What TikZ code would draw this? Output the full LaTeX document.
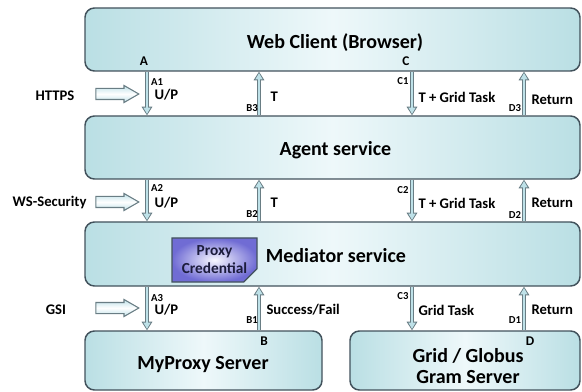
\documentclass[tikz,border=0pt]{standalone}
\usepackage{fontspec}
\setmainfont{Carlito}
\usetikzlibrary{arrows.meta,shapes.arrows,shapes.misc}

\definecolor{layerfill}{RGB}{186,223,228}
\definecolor{layerlight}{RGB}{238,248,250}
\definecolor{layeredge}{RGB}{66,82,92}
\definecolor{flowedge}{RGB}{105,125,132}
\definecolor{flowfill}{RGB}{190,225,232}
\definecolor{credfill}{RGB}{112,108,212}
\definecolor{credlight}{RGB}{248,248,255}
\definecolor{credtext}{RGB}{28,28,60}

\tikzset{every picture/.style={line width=0.75pt}}
\tikzset{
  layer/.style={draw=layeredge, line width=1.1pt, rounded corners=7pt,
    left color=layerfill, right color=layerfill, middle color=layerlight, inner sep=0pt},
  wide layer/.style={layer, minimum width=371.25pt, minimum height=47.25pt},
  server/.style={layer, minimum width=#1, minimum height=44.25pt},
  layer text/.style={inner sep=0pt, align=center, font=\fontsize{15}{16}\selectfont\bfseries},
  flow/.style={draw=flowfill, line width=1.5pt, shorten >=1.1pt, shorten <=0.2pt,
    -{Triangle[length=4.6pt,width=5.4pt,line width=0pt]},
    preaction={draw=flowedge, line width=3.4pt, shorten >=0pt, shorten <=0pt,
      -{Triangle[length=6.4pt,width=8.2pt,line width=0pt]}}},
  channel/.style={single arrow, draw=flowedge, line width=0.8pt,
    top color=flowfill, bottom color=flowfill, middle color=white, inner sep=0pt,
    text height=7.5pt, text depth=0pt, minimum height=32.25pt,
    single arrow head extend=2.25pt, single arrow tip angle=60},
  endpoint/.style={inner sep=0pt, font=\fontsize{10}{12}\selectfont\bfseries},
  tag/.style={inner sep=0pt, font=\fontsize{8}{9}\selectfont\bfseries},
  msg/.style={inner sep=0pt, anchor=west, font=\fontsize{11}{13}\selectfont\bfseries},
  proto/.style={inner sep=0pt, font=\fontsize{11}{13}\selectfont\bfseries},
}

\begin{document}
\begin{tikzpicture}[x=0.75pt,y=0.75pt,yscale=-1,xscale=1]
\useasboundingbox (0,0) rectangle (582,392);

%Layers
\node[wide layer] (web) at (332.5,39.5) {};
\node[wide layer] (agent) at (332.5,147.5) {};
\node[wide layer, minimum height=48pt] (mediator) at (332.5,254) {};
\node[server=177.75pt] (myproxy) at (203.5,360.5) {};
\node[server=172.5pt] (grid) at (465,360.5) {};

% Text Node
\draw (335,43) node [layer text] (web-name) {Web Client (Browser)};
\draw (335.5,150) node [layer text] (agent-name) {Agent service};
\draw (336,256) node [layer text] (mediator-name) {Mediator service};
\draw (203,365) node [layer text] (myproxy-name) {MyProxy Server};
\draw (468,366) node [layer text] (grid-name) {Grid / Globus\\Gram Server};

%Credential held by the mediator
\node[chamfered rectangle, chamfered rectangle corners=south east,
  chamfered rectangle xsep=5pt, chamfered rectangle ysep=5pt,
  draw=layeredge, line width=0.9pt, inner color=credlight, outer color=credfill,
  minimum width=63.75pt, minimum height=33pt, inner sep=0pt, align=center,
  text=credtext, font=\fontsize{11.5}{13.5}\selectfont\bfseries] (proxy) at (214.5,260) {Proxy\\Credential};

%Columns of the message flows
\coordinate (ax) at (147,0);
\coordinate (bx) at (259,0);
\coordinate (cx) at (412,0);
\coordinate (dx) at (524,0);

%Straight Lines: requests going down
\draw[flow] (web.south -| ax) -- (agent.north -| ax);
\draw[flow] (agent.south -| ax) -- (mediator.north -| ax);
\draw[flow] (mediator.south -| ax) -- (myproxy.north -| ax);
\draw[flow] (web.south -| cx) -- (agent.north -| cx);
\draw[flow] (agent.south -| cx) -- (mediator.north -| cx);
\draw[flow] (mediator.south -| cx) -- (grid.north -| cx);
%Straight Lines: replies going up
\draw[flow] (myproxy.north -| bx) -- (mediator.south -| bx);
\draw[flow] (mediator.north -| bx) -- (agent.south -| bx);
\draw[flow] (agent.north -| bx) -- (web.south -| bx);
\draw[flow] (grid.north -| dx) -- (mediator.south -| dx);
\draw[flow] (mediator.north -| dx) -- (agent.south -| dx);
\draw[flow] (agent.north -| dx) -- (web.south -| dx);

%Protocol arrows
\node[channel] (https) at (112.5,94) {};
\node[channel] (wssec) at (112.5,202) {};
\node[channel] (gsi) at (112.5,308) {};

% Text Node
\draw (55,96) node [proto] {HTTPS};
\draw (87,203) node [proto, anchor=east] {WS-Security};
\draw (56,310) node [proto] {GSI};

% Text Node
\draw (144,61) node [endpoint] {A};
\draw (264,341) node [endpoint] {B};
\draw (406,61) node [endpoint] {C};
\draw (530,341) node [endpoint] {D};

% Text Node
\draw (157,82) node [tag] {A1};
\draw (157,188) node [tag] {A2};
\draw (157,298) node [tag] {A3};
\draw (252,108) node [tag] {B3};
\draw (252,214) node [tag] {B2};
\draw (252,320) node [tag] {B1};
\draw (403,81) node [tag] {C1};
\draw (403,190) node [tag] {C2};
\draw (403,296) node [tag] {C3};
\draw (515,108) node [tag] {D3};
\draw (515,215) node [tag] {D2};
\draw (515,320) node [tag] {D1};

% Text Node
\draw (154,95) node [msg] {U/P};
\draw (154,203) node [msg] {U/P};
\draw (154,310) node [msg] {U/P};
\draw (270,97) node [msg] {T};
\draw (270,203) node [msg] {T};
\draw (266,310) node [msg] {Success/Fail};
\draw (418,97) node [msg] {T + Grid Task};
\draw (418,203) node [msg] {T + Grid Task};
\draw (418,310) node [msg] {Grid Task};
\draw (531,100) node [msg] {Return};
\draw (531,203) node [msg] {Return};
\draw (531,310) node [msg] {Return};

\end{tikzpicture}
\end{document}
